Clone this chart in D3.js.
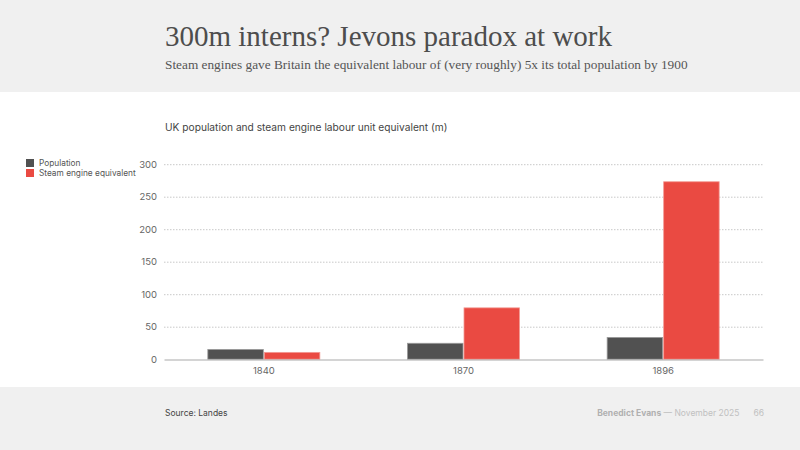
<!DOCTYPE html>
<html>
<head>
<meta charset="utf-8">
<script src="https://cdn.jsdelivr.net/npm/d3@7"></script>
<style>
  html, body { margin: 0; padding: 0; background: #fff; }
  svg { display: block; }
</style>
</head>
<body>
<div id="chart"></div>
<script>
// Données (millions)
const years = ["1840", "1870", "1896"]
const population = [15, 24.5, 33.5]
const steamEquivalent = [10.5, 79, 273]
const seriesNames = ["Population", "Steam engine equivalent"]
const yTicks = [0, 50, 100, 150, 200, 250, 300]

const W = 800, H = 450
const colors = { pop: "#515151", steam: "#ea4a42", bg: "#f0f0f0", text: "#555", axis: "#666" }
const sans = "Inter, 'Noto Sans', sans-serif"
const serif = "'Liberation Serif', serif"

const svg = d3.select("#chart").append("svg")
  .attr("width", W).attr("height", H)

// Bandeaux haut / bas
svg.append("rect").attr("x", 0).attr("y", 0).attr("width", W).attr("height", 92).attr("fill", colors.bg)
svg.append("rect").attr("x", 0).attr("y", 387).attr("width", W).attr("height", H - 387).attr("fill", colors.bg)

// Titres
svg.append("text").attr("x", 165).attr("y", 46)
  .attr("font-family", serif).attr("font-size", 29).attr("fill", "#4d4d4d")
  .text("300m interns? Jevons paradox at work")
svg.append("text").attr("x", 165).attr("y", 69)
  .attr("font-family", serif).attr("font-size", 13.3).attr("fill", "#555")
  .text("Steam engines gave Britain the equivalent labour of (very roughly) 5x its total population by 1900")

svg.append("text").attr("x", 165).attr("y", 131)
  .attr("font-family", sans).attr("font-size", 10.2).attr("fill", "#444")
  .text("UK population and steam engine labour unit equivalent (m)")

// Échelles
const x0 = d3.scaleBand().domain(years).range([164, 763]).paddingInner(0.434).paddingOuter(0.217)
const x1 = d3.scaleBand().domain(seriesNames).range([0, x0.bandwidth()])
const y = d3.scaleLinear().domain([0, 300]).range([359.2, 164.2])

// Grille
const grid = svg.append("g")
  .call(d3.axisLeft(y).tickValues(yTicks.slice(1)).tickSize(-(763 - 164)).tickFormat(""))
  .attr("transform", "translate(164,0)")
grid.select(".domain").remove()
grid.selectAll("line").attr("stroke", "#c8c8c8").attr("stroke-dasharray", "1.5,1.5")

// Labels Y
const yAxis = svg.append("g").attr("transform", "translate(164,0)")
  .call(d3.axisLeft(y).tickValues(yTicks).tickSize(0).tickPadding(7))
yAxis.select(".domain").remove()
yAxis.selectAll("text").attr("font-family", sans).attr("font-size", 9.5).attr("fill", colors.axis)

// Barres
const groups = svg.append("g").selectAll("g")
  .data(years.map((yr, i) => ({ yr, vals: [population[i], steamEquivalent[i]] })))
  .join("g")
  .attr("transform", (d) => `translate(${x0(d.yr)},0)`)

groups.selectAll("rect")
  .data((d) => d.vals.map((v, j) => ({ name: seriesNames[j], v })))
  .join("rect")
  .attr("x", (d) => x1(d.name) + 0.5)
  .attr("width", x1.bandwidth() - 1)
  .attr("y", (d) => y(d.v))
  .attr("height", (d) => y(0) - y(d.v))
  .attr("fill", (d) => d.name === "Population" ? colors.pop : colors.steam)
  .attr("stroke", (d) => d.name === "Population" ? "#9a9a9a" : "#f39a94")
  .attr("stroke-width", 0.8)

// Axe X
const xAxis = svg.append("g").attr("transform", "translate(0,359.5)")
  .call(d3.axisBottom(x0).tickSize(0).tickPadding(8))
xAxis.select(".domain").attr("stroke", "#aaa").attr("stroke-width", 1.2)
xAxis.selectAll("text").attr("font-family", sans).attr("font-size", 9.5).attr("fill", colors.axis)

// Légende
const legend = svg.append("g")
seriesNames.forEach((n, i) => {
  legend.append("rect").attr("x", 26).attr("y", 159 + i * 10).attr("width", 8).attr("height", 8)
    .attr("fill", i === 0 ? colors.pop : colors.steam)
  legend.append("text").attr("x", 39).attr("y", 166 + i * 10)
    .attr("font-family", sans).attr("font-size", 8.3).attr("fill", "#555")
    .text(n)
})

// Pied de page
svg.append("text").attr("x", 165).attr("y", 416)
  .attr("font-family", sans).attr("font-size", 8.5).attr("fill", "#444")
  .text("Source: Landes")

const foot = svg.append("text").attr("x", 764).attr("y", 416).attr("text-anchor", "end")
  .attr("font-family", sans).attr("font-size", 8.5)
foot.append("tspan").attr("font-weight", 700).attr("fill", "#b0b0b0").text("Benedict Evans")
foot.append("tspan").attr("fill", "#c0c0c0").text("  —  November 2025")
foot.append("tspan").attr("fill", "#c0c0c0").attr("dx", 14).text("66")
</script>
</body>
</html>
